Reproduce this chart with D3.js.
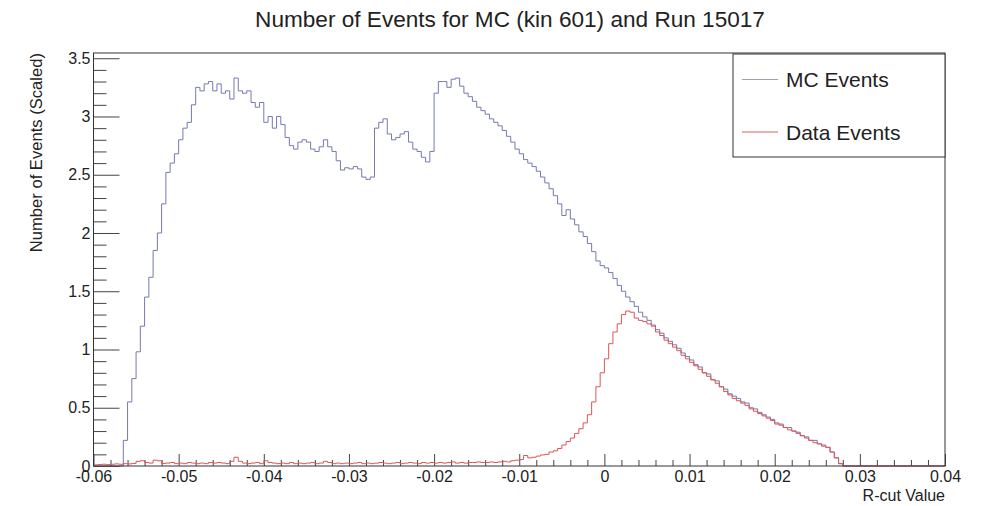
<!DOCTYPE html>
<html>
<head>
    <script type="text/javascript" src="https://d3js.org/d3.v7.min.js"></script>
    <style>
        body { margin: 0; background: #fff; }
        svg { display: block; font-family: "Liberation Sans", Arial, sans-serif; }
        .axis text { fill: #222; font-size: 16px; }
        .axis line { stroke: #444; }
        .axis path { display: none; }
    </style>
</head>
<body>
    <svg></svg>
    <script>
        // histogram binning: 200 bins of 0.0005 from -0.06 to 0.04
        const xMin = -0.06, xMax = 0.04, binWidth = 0.0005;

        const mcCounts = [
            0, 0, 0, 0, 0, 0, 0, 0.22, 0.55, 0.75,
            0.98, 1.2, 1.45, 1.62, 1.85, 2.0, 2.25, 2.52, 2.6, 2.68,
            2.8, 2.9, 2.95, 3.1, 3.25, 3.22, 3.28, 3.3, 3.22, 3.28,
            3.2, 3.22, 3.15, 3.33, 3.22, 3.2, 3.22, 3.12, 3.08, 3.12,
            2.95, 3.0, 2.9, 3.0, 2.93, 2.82, 2.75, 2.72, 2.78, 2.8,
            2.78, 2.72, 2.7, 2.74, 2.8, 2.74, 2.7, 2.62, 2.54, 2.56,
            2.55, 2.57, 2.55, 2.48, 2.46, 2.48, 2.9, 2.95, 2.98, 2.85,
            2.8, 2.82, 2.85, 2.87, 2.78, 2.72, 2.7, 2.65, 2.61, 2.7,
            3.2, 3.3, 3.3, 3.25, 3.32, 3.33, 3.26, 3.2, 3.17, 3.13,
            3.08, 3.05, 3.02, 2.98, 2.95, 2.92, 2.88, 2.83, 2.78, 2.72,
            2.68, 2.63, 2.6, 2.57, 2.53, 2.48, 2.43, 2.38, 2.32, 2.25,
            2.15, 2.2, 2.12, 2.07, 2.01, 1.97, 1.91, 1.84, 1.76, 1.72,
            1.7, 1.66, 1.61, 1.55, 1.5, 1.45, 1.41, 1.37, 1.32, 1.28,
            1.25, 1.21, 1.17, 1.14, 1.1, 1.07, 1.04, 1.01, 0.97, 0.94,
            0.91, 0.87, 0.85, 0.8, 0.79, 0.74, 0.73, 0.68, 0.66, 0.62,
            0.6, 0.58, 0.55, 0.54, 0.5, 0.49, 0.46, 0.44, 0.42, 0.4,
            0.37, 0.36, 0.33, 0.33, 0.3, 0.29, 0.26, 0.25, 0.22, 0.22,
            0.19, 0.18, 0.16, 0.12, 0.07, 0.02, 0, 0, 0, 0,
            0, 0, 0, 0, 0, 0, 0, 0, 0, 0,
            0, 0, 0, 0, 0, 0, 0, 0, 0, 0
        ];

        const dataCounts = [
            0.01, 0.012, 0.015, 0.012, 0.015, 0.018, 0.015, 0.02, 0.018, 0.022,
            0.04, 0.045, 0.03, 0.025, 0.05, 0.045, 0.022, 0.025, 0.03, 0.02,
            0.025, 0.02, 0.03, 0.025, 0.02, 0.025, 0.02, 0.03, 0.025, 0.03,
            0.025, 0.02, 0.04, 0.075, 0.04, 0.025, 0.02, 0.025, 0.03, 0.02,
            0.045, 0.03, 0.025, 0.02, 0.025, 0.02, 0.03, 0.02, 0.025, 0.02,
            0.025, 0.03, 0.02, 0.025, 0.04, 0.03, 0.02, 0.025, 0.02, 0.025,
            0.02, 0.025, 0.03, 0.02, 0.025, 0.02, 0.025, 0.03, 0.025, 0.02,
            0.025, 0.03, 0.02, 0.025, 0.03, 0.025, 0.02, 0.03, 0.025, 0.03,
            0.025, 0.03, 0.025, 0.03, 0.035, 0.025, 0.03, 0.025, 0.03, 0.03,
            0.035, 0.03, 0.03, 0.035, 0.03, 0.035, 0.04, 0.035, 0.045, 0.05,
            0.055, 0.09, 0.07, 0.075, 0.085, 0.095, 0.1, 0.12, 0.13, 0.15,
            0.18, 0.21, 0.24, 0.28, 0.32, 0.37, 0.44, 0.55, 0.68, 0.8,
            0.92, 1.05, 1.15, 1.22, 1.3, 1.33, 1.32, 1.27, 1.25, 1.24,
            1.22, 1.2, 1.15, 1.12, 1.08, 1.05, 1.02, 0.99, 0.95, 0.92,
            0.89, 0.86, 0.83, 0.8, 0.77, 0.74, 0.71, 0.68, 0.64, 0.61,
            0.58, 0.56, 0.54, 0.52, 0.49, 0.47, 0.45, 0.43, 0.41, 0.39,
            0.36, 0.35, 0.33, 0.31, 0.3, 0.28, 0.26, 0.24, 0.22, 0.2,
            0.19, 0.17, 0.16, 0.12, 0.07, 0.02, 0, 0, 0, 0,
            0, 0, 0, 0, 0, 0, 0, 0, 0, 0,
            0, 0, 0, 0, 0, 0, 0, 0, 0, 0
        ];

        const xTickValues = [-0.06, -0.05, -0.04, -0.03, -0.02, -0.01, 0, 0.01, 0.02, 0.03, 0.04];
        const xTickLabels = ["-0.06", "-0.05", "-0.04", "-0.03", "-0.02", "-0.01", "0", "0.01", "0.02", "0.03", "0.04"];
        const yTickValues = [0, 0.5, 1, 1.5, 2, 2.5, 3, 3.5];
        const yTickLabels = ["0", "0.5", "1", "1.5", "2", "2.5", "3", "3.5"];

        const W = 984, H = 506;
        const padLeft = 93.5, padRight = 945, padTop = 53, padBottom = 466;

        const svg = d3.select("svg").attr("width", W).attr("height", H);

        const x = d3.scaleLinear().domain([xMin, xMax]).range([padLeft, padRight]);
        const y = d3.scaleLinear().domain([0, 3.545]).range([padBottom, padTop]);

        // minor ticks
        const xMinor = d3.range(-0.06, 0.0401, 0.002).filter(v => Math.abs(Math.round(v * 100) - v * 100) > 1e-6);
        const yMinor = d3.range(0, 3.501, 0.1).filter(v => Math.abs(Math.round(v * 2) - v * 2) > 1e-6);

        svg.append("g").attr("class", "axis")
            .attr("transform", `translate(0,${padBottom})`)
            .call(d3.axisBottom(x).tickValues(xMinor).tickFormat("").tickSizeInner(-6).tickSizeOuter(0));
        svg.append("g").attr("class", "axis")
            .attr("transform", `translate(0,${padBottom})`)
            .call(d3.axisBottom(x).tickValues(xTickValues)
                .tickFormat((d, i) => xTickLabels[i])
                .tickSizeInner(-12).tickSizeOuter(0).tickPadding(5));

        svg.append("g").attr("class", "axis")
            .attr("transform", `translate(${padLeft},0)`)
            .call(d3.axisLeft(y).tickValues(yMinor).tickFormat("").tickSizeInner(-13).tickSizeOuter(0));
        svg.append("g").attr("class", "axis")
            .attr("transform", `translate(${padLeft},0)`)
            .call(d3.axisLeft(y).tickValues(yTickValues)
                .tickFormat((d, i) => yTickLabels[i])
                .tickSizeInner(-26).tickSizeOuter(0).tickPadding(3));

        // histograms as steps
        const stepLine = d3.line()
            .x(d => x(d[0]))
            .y(d => y(d[1]))
            .curve(d3.curveStepAfter);

        function toSteps(counts) {
            const pts = counts.map((v, i) => [xMin + i * binWidth, v]);
            pts.push([xMax, counts[counts.length - 1]]);
            return pts;
        }

        const plot = svg.append("g");
        plot.append("path")
            .attr("d", stepLine(toSteps(mcCounts)))
            .attr("fill", "none")
            .attr("stroke", "#7579b0")
            .attr("stroke-width", 1);
        plot.append("path")
            .attr("d", stepLine(toSteps(dataCounts)))
            .attr("fill", "none")
            .attr("stroke", "#e05555")
            .attr("stroke-width", 1);

        // frame
        svg.append("rect")
            .attr("x", padLeft).attr("y", padTop)
            .attr("width", padRight - padLeft).attr("height", padBottom - padTop)
            .attr("fill", "none").attr("stroke", "#333").attr("stroke-width", 1);

        // title and axis labels
        svg.append("text")
            .attr("x", 510).attr("y", 27)
            .attr("text-anchor", "middle")
            .attr("font-size", 22.6).attr("fill", "#222")
            .text("Number of Events for MC (kin 601) and Run 15017");

        svg.append("text")
            .attr("transform", "translate(41.5,53) rotate(-90)")
            .attr("text-anchor", "end")
            .attr("font-size", 16.6).attr("fill", "#222")
            .text("Number of Events (Scaled)");

        svg.append("text")
            .attr("x", padRight).attr("y", 501)
            .attr("text-anchor", "end")
            .attr("font-size", 16).attr("fill", "#222")
            .text("R-cut Value");

        // legend
        const legend = svg.append("g");
        legend.append("rect")
            .attr("x", 733).attr("y", 54).attr("width", 212).attr("height", 103)
            .attr("fill", "#fff").attr("stroke", "#333").attr("stroke-width", 1);

        const legendItems = [
            { label: "MC Events", color: "#9a9ec4", y: 79.5 },
            { label: "Data Events", color: "#e06060", y: 132 }
        ];
        legendItems.forEach(d => {
            legend.append("line")
                .attr("x1", 742).attr("x2", 778)
                .attr("y1", d.y).attr("y2", d.y)
                .attr("stroke", d.color).attr("stroke-width", 1.2);
            legend.append("text")
                .attr("x", 786).attr("y", d.y + 7.5)
                .attr("font-size", 21).attr("fill", "#222")
                .text(d.label);
        });
    </script>
</body>
</html>
